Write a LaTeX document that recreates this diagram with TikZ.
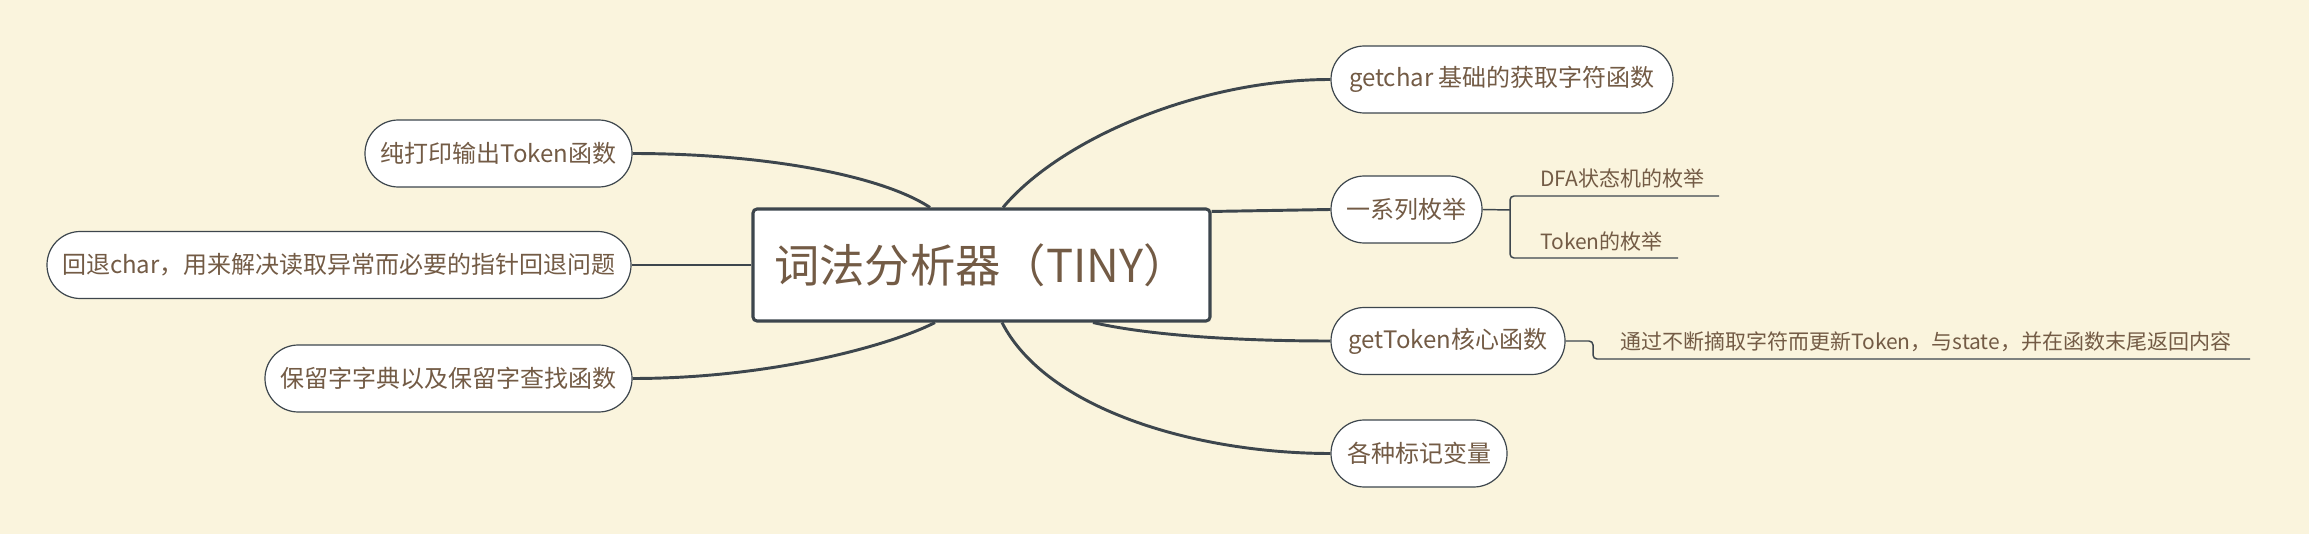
\documentclass[tikz,border=0pt]{standalone}
\usepackage{fontspec}
\setmainfont{Noto Sans CJK SC}
\definecolor{bg}{HTML}{FAF4DD}
\definecolor{ln}{HTML}{3D464D}
\definecolor{tx}{HTML}{735B45}
\tikzset{
  central/.style={draw=ln, line width=2.3pt, fill=white, rounded corners=3pt, text=tx,
    font=\fontsize{34}{40}\selectfont, inner sep=0pt, minimum width=342.75pt, minimum height=84pt},
  topic/.style={draw=ln, line width=0.9pt, fill=white, rounded corners=25pt, text=tx,
    font=\fontsize{18}{22}\selectfont, inner sep=0pt, minimum height=50.25pt},
  subtxt/.style={text=tx, font=\fontsize{15.75}{19}\selectfont, inner sep=0pt},
  conn/.style={draw=ln, line width=2.2pt},
  subconn/.style={draw=ln, line width=1.1pt, rounded corners=3pt},
}
\begin{document}
\begin{tikzpicture}[x=0.75pt,y=-0.75pt]
\fill[bg] (0,0) rectangle (2309,534);
\useasboundingbox (0,0) rectangle (2309,534);

% central
\node[central] (c) at (981.5,265) {词法分析器（TINY）};

% right topics
\node[topic, minimum width=256.5pt] (gc) at (1502,79.5) {getchar 基础的获取字符函数};
\node[topic, minimum width=113.25pt] (en) at (1406.5,209.5) {一系列枚举};
\node[topic, minimum width=175.5pt] (gt) at (1448,341) {getToken核心函数};
\node[topic, minimum width=132pt] (mk) at (1419,453.5) {各种标记变量};

% left topics
\node[topic, minimum width=200.25pt] (pr) at (498.5,153.5) {纯打印输出Token函数};
\node[topic, minimum width=438pt] (bk) at (339,265) {回退char，用来解决读取异常而必要的指针回退问题};
\node[topic, minimum width=275.25pt] (rs) at (448.5,378.5) {保留字字典以及保留字查找函数};

% subtopics
\node[subtxt, anchor=west] (dfa) at (1540,179) {DFA状态机的枚举};
\node[subtxt, anchor=west] (tk) at (1540,241.5) {Token的枚举};
\node[subtxt, anchor=west] (gd) at (1620,342) {通过不断摘取字符而更新Token，与state，并在函数末尾返回内容};

\coordinate (e1) at (1510,210);
\coordinate (dfaend) at (1719,196);
\coordinate (tkend) at (1678,258);
\coordinate (g1) at (1593,341);
\coordinate (gdend) at (2250,359);

% connectors
\draw[conn] ([xshift=21.5*0.75pt]c.north) .. controls +(57,-68) and +(-132,0) .. (gc.west);
\draw[conn] ([yshift=-4*0.75pt]c.north east) -- (en.west);
\draw[conn] ([xshift=111.5*0.75pt]c.south) .. controls +(57,13) and +(-92,0) .. (gt.west);
\draw[conn] ([xshift=20.5*0.75pt]c.south) .. controls +(45,88) and +(-132,0) .. (mk.west);
\draw[conn] ([xshift=-51.5*0.75pt]c.north) .. controls +(-50,-33) and +(128,0) .. (pr.east);
\draw[conn] (c.west) -- (bk.east);
\draw[conn] ([xshift=-46.5*0.75pt]c.south) .. controls +(-45,23) and +(138,0) .. (rs.east);

\draw[subconn] (en.east) -- (e1);
\draw[subconn] (e1) |- (dfaend);
\draw[subconn] (e1) |- (tkend);
\draw[subconn] (gt.east) -- (g1) |- (gdend);
\end{tikzpicture}
\end{document}
